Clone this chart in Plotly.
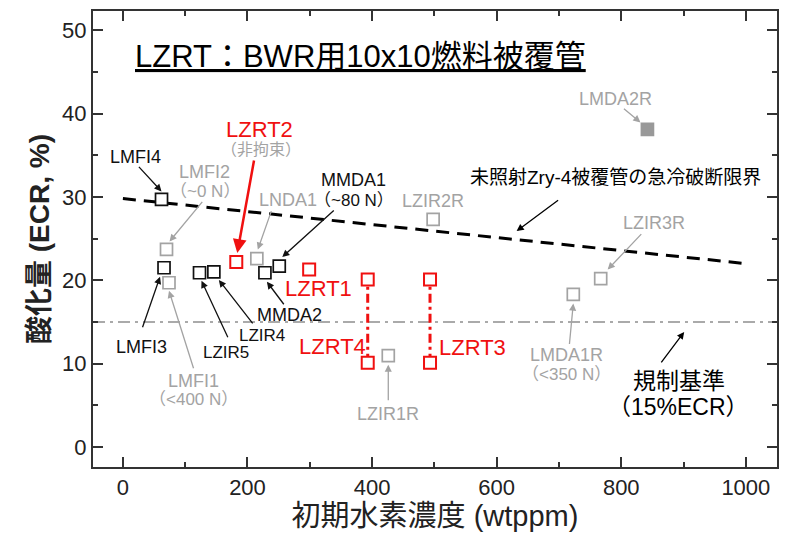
import plotly.graph_objects as go

# ---------------- data ----------------
black_names = ["LMFI4", "LMFI3", "LZIR5", "LZIR4", "MMDA2", "MMDA1"]
black_h = [62, 66, 123, 146, 228, 251]
black_ecr = [29.7, 21.5, 20.9, 21.0, 20.9, 21.7]

gray_names = ["LMFI2", "LMFI1", "LNDA1", "LZIR1R", "LZIR2R", "LMDA1R", "LZIR3R"]
gray_h = [70, 74, 215, 426, 498, 723, 767]
gray_ecr = [23.7, 19.7, 22.6, 10.95, 27.3, 18.3, 20.2]

filled_names = ["LMDA2R"]
filled_h = [842]
filled_ecr = [38.1]

red_names = ["LZRT2", "LZRT1"]
red_h = [182, 299]
red_ecr = [22.2, 21.3]

range_names = ["LZRT4", "LZRT3"]
range_h = [393, 493]
range_hi = [20.1, 20.1]
range_lo = [10.1, 10.1]

limit_h = [0, 1000]
limit_ecr = [29.8, 22.0]
reg_ecr = 15

x_ticks = [0, 200, 400, 600, 800, 1000]
y_ticks = [0, 10, 20, 30, 40, 50]

# ---------------- style ----------------
FONT = "Liberation Sans, Arial, Noto Sans CJK JP, sans-serif"
BLACK = "#111111"
GRAY = "#a3a3a3"
RED = "#f01010"
LS = 18   # label size
RS = 22   # red label size

fig = go.Figure()

# regulation line 15% ECR
fig.add_shape(type="line", xref="paper", yref="y", x0=0, x1=1, y0=reg_ecr, y1=reg_ecr,
              line=dict(color="#aaaaaa", width=2, dash="12px,5px,3px,5px"), layer="below")

# quench fracture limit (dashed)
fig.add_trace(go.Scatter(x=limit_h, y=limit_ecr, mode="lines",
                         line=dict(color="black", width=3, dash="13px,8px"),
                         hoverinfo="skip", showlegend=False))

# vertical dash-dot ranges
for n, h, lo, hi in zip(range_names, range_h, range_lo, range_hi):
    fig.add_trace(go.Scatter(x=[h, h], y=[lo, hi], mode="lines",
                             line=dict(color=RED, width=3, dash="9px,4px,3px,4px"),
                             hoverinfo="skip", showlegend=False))

def squares(xs, ys, color, fill="white", lw=1.7):
    fig.add_trace(go.Scatter(x=xs, y=ys, mode="markers",
                             marker=dict(symbol="square", size=12, color=fill,
                                         line=dict(color=color, width=lw)),
                             showlegend=False))

squares(gray_h, gray_ecr, GRAY)
squares(black_h, black_ecr, BLACK)
squares(filled_h, filled_ecr, "#999999", fill="#999999")
squares(red_h, red_ecr, RED, lw=2)
squares(range_h + range_h, range_hi + range_lo, RED, lw=2)

# lookup of point positions
pts = {}
for names, xs, ys in [(black_names, black_h, black_ecr), (gray_names, gray_h, gray_ecr),
                      (filled_names, filled_h, filled_ecr), (red_names, red_h, red_ecr)]:
    for n, x, y in zip(names, xs, ys):
        pts[n] = (x, y)
for n, x, lo in zip(range_names, range_h, range_lo):
    pts[n] = (x, lo)

ann = []

def label(name, text, dx, dy, color, size=LS):
    x, y = pts[name]
    ann.append(dict(x=x, y=y, xref="x", yref="y", text=text, showarrow=False,
                    xshift=dx, yshift=-dy, font=dict(family=FONT, size=size, color=color)))

def arrow(name, hx, hy, tx, ty, color, width=1.3):
    x, y = pts[name]
    ann.append(dict(x=x, y=y, xref="x", yref="y", text="", showarrow=True,
                    xshift=hx, yshift=-hy, ax=tx - hx, ay=ty - hy,
                    arrowcolor=color, arrowwidth=width, arrowhead=2, arrowsize=1.1,
                    standoff=0, startstandoff=0))

# black labels
label("LMFI4", "LMFI4", -26, -42, BLACK); arrow("LMFI4", 0, -8, -24, -34, BLACK)
label("LMFI3", "LMFI3", -23, 79, BLACK); arrow("LMFI3", -4, 9, -22, 61, BLACK)
label("LZIR5", "LZIR5", 26, 80, BLACK, 17); arrow("LZIR5", 2, 8, 29, 66, BLACK)
label("LZIR4", "LZIR4", 48, 64, BLACK, 17); arrow("LZIR4", 5, 8, 40, 53, BLACK)
label("MMDA2", "MMDA2", 25, 42, BLACK); arrow("MMDA2", 2, 9, 20, 33, BLACK)
label("MMDA1", "MMDA1", 74, -86, BLACK); label("MMDA1", "（~80 N）", 75, -66, BLACK, 17)
arrow("MMDA1", 3, -9, 56, -57, BLACK)

# gray labels
label("LMFI2", "LMFI2", 38, -77, GRAY); label("LMFI2", "（~0 N）", 38, -58, GRAY, 17)
arrow("LMFI2", 3, -8, 37, -49, GRAY)
label("LMFI1", "LMFI1", 24, 98, GRAY); label("LMFI1", "（<400 N）", 24, 117, GRAY, 17)
arrow("LMFI1", 0, 8, 25, 87, GRAY)
label("LNDA1", "LNDA1", 31, -59, GRAY); arrow("LNDA1", 1, -9, 15, -49, GRAY)
label("LZIR1R", "LZIR1R", 0, 58, GRAY); arrow("LZIR1R", 0, 9, 0, 46, GRAY)
label("LZIR2R", "LZIR2R", 0, -18, GRAY)
label("LMDA1R", "LMDA1R", -7, 61, GRAY); label("LMDA1R", "（<350 N）", -7, 80, GRAY, 17)
arrow("LMDA1R", 0, 9, -4, 51, GRAY)
label("LZIR3R", "LZIR3R", 53, -56, GRAY); arrow("LZIR3R", 7, -9, 42, -46, GRAY)
label("LMDA2R", "LMDA2R", -32, -30, GRAY); arrow("LMDA2R", -7, -7, -25, -22, GRAY)

# red labels
label("LZRT2", "LZRT2", 23, -132, RED, RS); label("LZRT2", "（非拘束）", 25, -112, GRAY, 16)
arrow("LZRT2", 1, -9, 18, -103, RED, 2.5)
label("LZRT1", "LZRT1", 9, 19, RED, RS)
label("LZRT4", "LZRT4", -35, -16, RED, RS)
label("LZRT3", "LZRT3", 42, -15, RED, RS)

# free annotations
ann.append(dict(x=382, y=46.8, xref="x", yref="y", text="<u>LZRT：BWR用10x10燃料被覆管</u>",
                showarrow=False, font=dict(family=FONT, size=31, color="black")))
ann.append(dict(x=791, y=32.3, xref="x", yref="y", text="未照射Zry-4被覆管の急冷破断限界",
                showarrow=False, font=dict(family=FONT, size=19, color="black")))
ann.append(dict(x=632, y=25.9, xref="x", yref="y", text="", showarrow=True, ax=43, ay=-32,
                arrowcolor="black", arrowwidth=1.3, arrowhead=2, arrowsize=1.1))
ann.append(dict(x=892, y=7.9, xref="x", yref="y", text="規制基準",
                showarrow=False, font=dict(family=FONT, size=23, color="black")))
ann.append(dict(x=892, y=4.8, xref="x", yref="y", text="（15%ECR）",
                showarrow=False, font=dict(family=FONT, size=23, color="black")))
ann.append(dict(x=901, y=13.8, xref="x", yref="y", text="", showarrow=True, ax=-24, ay=32,
                arrowcolor="black", arrowwidth=1.3, arrowhead=2, arrowsize=1.1))

axis_common = dict(showline=True, linecolor="#333333", linewidth=2, mirror="allticks",
                   ticks="inside", ticklen=10, tickwidth=1.5, tickcolor="#333333",
                   showgrid=False, zeroline=False,
                   tickfont=dict(family=FONT, size=22, color="#222222"))

fig.update_layout(
    width=786, height=539,
    margin=dict(l=93, r=7, t=11, b=72),
    paper_bgcolor="white", plot_bgcolor="white",
    annotations=ann,
    xaxis=dict(range=[-48, 1050], tickvals=x_ticks,
               minor=dict(dtick=100, ticks="inside", ticklen=5, tickwidth=1.5, tickcolor="#333333"),
               title=dict(text="初期水素濃度 (wtppm)", font=dict(family=FONT, size=29, color="#222222"),
                          standoff=2),
               **axis_common),
    yaxis=dict(range=[-2.4, 52.3], tickvals=y_ticks,
               minor=dict(dtick=5, ticks="inside", ticklen=5, tickwidth=1.5, tickcolor="#333333"),
               title=dict(text="<b>酸化量 (ECR, %)</b>", font=dict(family=FONT, size=28, color="#222222"),
                          standoff=4),
               **axis_common),
)

fig.write_html("out.html")
